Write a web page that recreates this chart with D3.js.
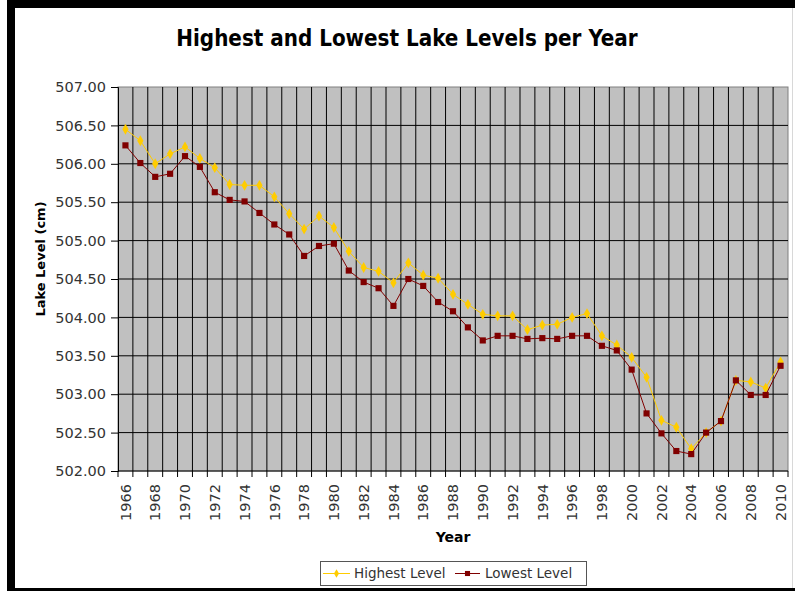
<!DOCTYPE html>
<html><head><meta charset="utf-8">
<script src="https://cdn.jsdelivr.net/npm/d3@7"></script>
<style>body{margin:0;background:#fff}svg{display:block}</style>
</head><body>
<script>
const years = d3.range(1966, 2011);
const highest = [506.45,506.30,506.00,506.13,506.22,506.07,505.95,505.73,505.72,505.72,
  505.57,505.35,505.15,505.32,505.17,504.86,504.65,504.60,504.45,504.71,
  504.55,504.51,504.30,504.17,504.04,504.02,504.02,503.84,503.90,503.91,
  504.00,504.05,503.76,503.64,503.48,503.22,502.66,502.57,502.29,502.50,
  502.65,503.18,503.16,503.08,503.42];
const lowest = [506.24,506.01,505.83,505.87,506.10,505.96,505.63,505.53,505.51,505.36,
  505.21,505.08,504.80,504.93,504.96,504.61,504.46,504.38,504.15,504.50,
  504.41,504.20,504.08,503.87,503.70,503.76,503.76,503.72,503.73,503.72,
  503.76,503.76,503.63,503.57,503.32,502.75,502.49,502.26,502.22,502.50,
  502.65,503.18,502.99,502.99,503.37];
const yTicks = [502,502.5,503,503.5,504,504.5,505,505.5,506,506.5,507];
const xTickYears = years.filter(y => y % 2 === 0);
const seriesNames = ["Highest Level","Lowest Level"];
const seriesColors = ["#FFCC00","#800000"];

const W = 795, H = 591;
const svg = d3.select("body").append("svg").attr("width", W).attr("height", H);
const font = "'DejaVu Sans', Verdana, sans-serif";

// frame
svg.append("rect").attr("width", W).attr("height", H).attr("fill", "#fff");
svg.append("rect").attr("x", 7).attr("y", 0).attr("width", 8).attr("height", H).attr("fill", "#000");
svg.append("rect").attr("x", 7).attr("y", 0).attr("width", W - 7).attr("height", 8).attr("fill", "#000");
svg.append("rect").attr("x", 7).attr("y", 588).attr("width", W - 7).attr("height", 3).attr("fill", "#000");
svg.append("line").attr("x1", 792.5).attr("x2", 792.5).attr("y1", 8).attr("y2", 588).attr("stroke", "#d8d8d8");

const L = 118, R = 788, T = 87, B = 471;
const x = d3.scaleBand().domain(years).range([L, R]).padding(0);
const y = d3.scaleLinear().domain([502, 507]).range([B, T]);

// plot area
svg.append("rect").attr("x", L).attr("y", T).attr("width", R - L).attr("height", B - T)
  .attr("fill", "#C0C0C0").attr("stroke", "#808080");

const g = svg.append("g");
const bounds = years.map(yr => x(yr)).concat([R]);
g.selectAll("line.vg").data(bounds.slice(1, -1)).join("line")
  .attr("x1", d => d).attr("x2", d => d).attr("y1", T).attr("y2", B)
  .attr("stroke", "#000").attr("stroke-width", 1);
g.selectAll("line.hg").data(yTicks.slice(1, -1)).join("line")
  .attr("x1", L).attr("x2", R).attr("y1", d => y(d)).attr("y2", d => y(d))
  .attr("stroke", "#000").attr("stroke-width", 1);

// y axis
const yAxis = d3.axisLeft(y).tickValues(yTicks).tickFormat(d3.format(".2f")).tickSize(7).tickPadding(5);
const ya = svg.append("g").attr("transform", `translate(${L},0)`).call(yAxis);
ya.select(".domain").attr("stroke", "#000");
ya.selectAll("text").attr("font-family", font).attr("font-size", "14.5px").attr("fill", "#333");

// x axis
svg.append("line").attr("x1", L).attr("x2", R).attr("y1", B).attr("y2", B).attr("stroke", "#000");
svg.selectAll("line.xt").data(bounds).join("line")
  .attr("x1", d => d).attr("x2", d => d).attr("y1", B).attr("y2", B + 6).attr("stroke", "#000");
svg.selectAll("text.xl").data(xTickYears).join("text")
  .attr("transform", d => `translate(${x(d) + x.bandwidth() / 2},${B + 13}) rotate(-90)`)
  .attr("text-anchor", "end").attr("dy", "0.36em")
  .attr("font-family", font).attr("font-size", "14.5px").attr("fill", "#333")
  .text(d => d);

// series
const series = [highest, lowest];
const line = d3.line().x((d, i) => x(years[i]) + x.bandwidth() / 2).y(d => y(d));
series.forEach((vals, k) => {
  svg.append("path").datum(vals).attr("d", line).attr("fill", "none")
    .attr("stroke", seriesColors[k]).attr("stroke-width", 1);
  const sym = d3.symbol().type(k === 0 ? d3.symbolDiamond : d3.symbolSquare).size(k === 0 ? 34 : 38);
  svg.selectAll(null).data(vals).join("path")
    .attr("d", sym)
    .attr("transform", (d, i) => `translate(${x(years[i]) + x.bandwidth() / 2},${y(d)})`)
    .attr("fill", seriesColors[k]);
});

// titles
svg.append("text").attr("x", 407).attr("y", 46).attr("text-anchor", "middle")
  .attr("font-family", "'DejaVu Sans Condensed', 'DejaVu Sans', sans-serif").attr("font-weight", "bold")
  .attr("font-size", "22.2px").attr("fill", "#000")
  .text("Highest and Lowest Lake Levels per Year");
svg.append("text").attr("x", (L + R) / 2).attr("y", 542).attr("text-anchor", "middle")
  .attr("font-family", font).attr("font-weight", "bold").attr("font-size", "14px").attr("fill", "#000")
  .text("Year");
svg.append("text").attr("transform", `translate(45,259) rotate(-90)`).attr("text-anchor", "middle")
  .attr("font-family", font).attr("font-weight", "bold").attr("font-size", "13px").attr("fill", "#000")
  .text("Lake Level (cm)");

// legend
const lg = svg.append("g");
lg.append("rect").attr("x", 320.5).attr("y", 561.5).attr("width", 266).attr("height", 24)
  .attr("fill", "#fff").attr("stroke", "#555");
const legendX = [[323, 350, 354], [455, 480, 485]];
seriesNames.forEach((nm, k) => {
  const [a, b, t] = legendX[k];
  lg.append("line").attr("x1", a).attr("x2", b).attr("y1", 573.5).attr("y2", 573.5)
    .attr("stroke", seriesColors[k]).attr("stroke-width", 1);
  lg.append("path").attr("d", d3.symbol().type(k === 0 ? d3.symbolDiamond : d3.symbolSquare).size(k === 0 ? 22 : 26))
    .attr("transform", `translate(${(a + b) / 2},573.5)`).attr("fill", seriesColors[k]);
  lg.append("text").attr("x", t).attr("y", 573.5).attr("dy", "0.36em")
    .attr("font-family", font).attr("font-size", "13.5px").attr("fill", "#333").text(nm);
});
</script>
</body></html>
